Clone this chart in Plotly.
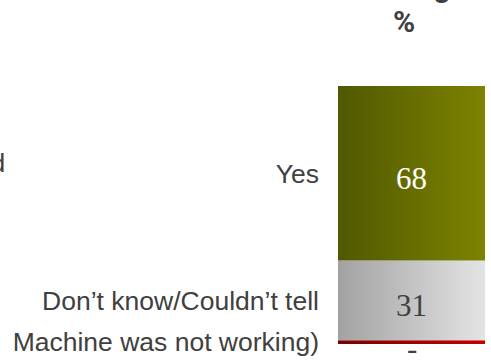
import plotly.graph_objects as go

# Data (bottom to top of the stacked bar)
categories = ["Machine was not working)", "Don\u2019t know/Couldn\u2019t tell", "Yes"]
values = [1.5, 31, 68]
value_labels = ["-", "31", "68"]
label_colors = ["#404040", "#404040", "#ffffff"]
gradients = [
    [[0, "#7a0000"], [1, "#c40000"]],
    [[0, "#a2a2a2"], [1, "#e4e4e4"]],
    [[0, "#505800"], [1, "#7c8300"]],
]

total = sum(values)
bases = []
acc = 0
for v in values:
    bases.append(acc)
    acc += v
mids = [b + v / 2 for b, v in zip(bases, values)]

fig = go.Figure()
x0, x1 = -0.5, 0.5
for cat, b, v, g in zip(categories, bases, values, gradients):
    fig.add_trace(go.Scatter(
        x=[x0, x1, x1, x0, x0],
        y=[b, b, b + v, b + v, b],
        mode="lines", line=dict(width=0), fill="toself",
        fillgradient=dict(type="horizontal", colorscale=g),
        name=cat, hoverinfo="skip", showlegend=False,
    ))

# value labels
for i, v in enumerate(values):
    if v >= 5:
        fig.add_annotation(x=0, y=mids[i], yshift=-5, yanchor="middle", text=value_labels[i],
                           showarrow=False,
                           font=dict(family="Liberation Serif", size=31, color=label_colors[i]))
    else:
        fig.add_annotation(x=0, y=bases[i], yshift=-4, yanchor="middle", text=value_labels[i],
                           showarrow=False,
                           font=dict(family="Liberation Serif", size=31, color=label_colors[i]))

# header & cut-off texts
fig.add_annotation(xref="paper", yref="paper", x=0.45, y=1.251, text="<b>%</b>", showarrow=False,
                   xanchor="center", yanchor="middle",
                   font=dict(family="Roboto", size=30, color="#404040"))
fig.add_annotation(xref="paper", yref="paper", x=0.78, y=1.3118, text="<b>Working</b>", showarrow=False,
                   xanchor="right", yanchor="bottom",
                   font=dict(family="Roboto", size=30, color="#404040"))
fig.add_annotation(xref="paper", yref="paper", x=-2.255, y=0.70, text="Ticket validated", showarrow=False,
                   xanchor="right", yanchor="middle",
                   font=dict(family="Liberation Sans", size=26.5, color="#404040"))

fig.update_layout(
    width=491, height=363,
    margin=dict(l=338, r=6, t=86, b=14),
    paper_bgcolor="white", plot_bgcolor="white",
    xaxis=dict(range=[x0, x1], visible=False, fixedrange=True),
    yaxis=dict(range=[0, total], tickvals=mids, ticktext=categories, ticks="",
               showgrid=False, zeroline=False, showline=False, ticklabelstandoff=18,
               tickfont=dict(family="Liberation Sans", size=26.5, color="#404040")),
)

fig.write_html("out.html")
